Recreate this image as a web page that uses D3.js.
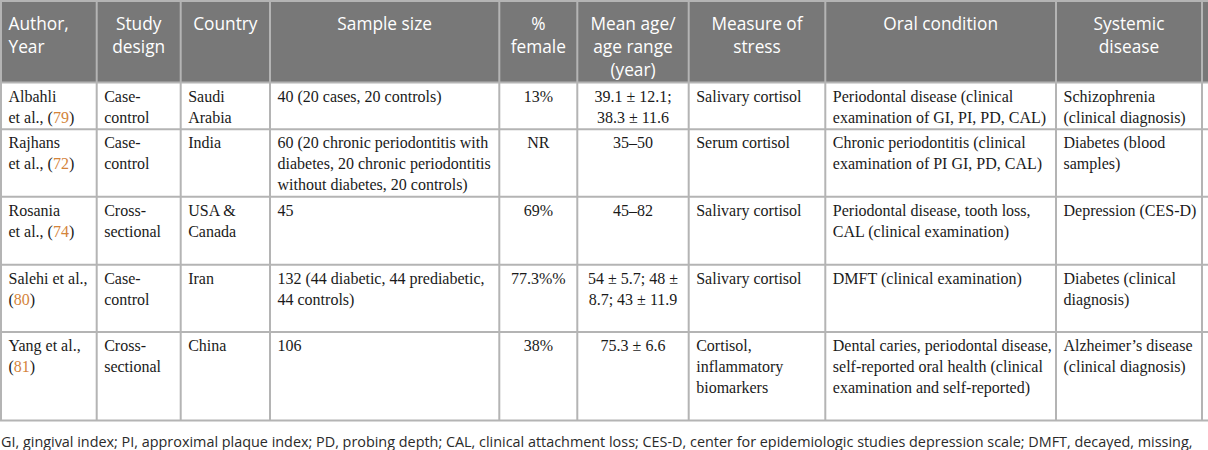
<!DOCTYPE html>
<html>
<head>
<meta charset="utf-8">
<script src="https://cdn.jsdelivr.net/npm/d3@7"></script>
<style>
  body { margin: 0; background: #fff; overflow: hidden; }
  svg { display: block; }
</style>
</head>
<body>
<div id="tableBox"></div>
<script>
// table content, one array per column
var headers = ["Author,\nYear", "Study\ndesign", "Country", "Sample size", "%\nfemale",
  "Mean age/\nage range\n(year)", "Measure of\nstress", "Oral condition", "Systemic\ndisease"];

var authors = ["Albahli\net al., ", "Rajhans\net al., ", "Rosania\net al., ", "Salehi et al.,\n", "Yang et al.,\n"];
var refs = ["79", "72", "74", "80", "81"];
var designs = ["Case-\ncontrol", "Case-\ncontrol", "Cross-\nsectional", "Case-\ncontrol", "Cross-\nsectional"];
var countries = ["Saudi\nArabia", "India", "USA &\nCanada", "Iran", "China"];
var sampleSizes = [
  "40 (20 cases, 20 controls)",
  "60 (20 chronic periodontitis with\ndiabetes, 20 chronic periodontitis\nwithout diabetes, 20 controls)",
  "45",
  "132 (44 diabetic, 44 prediabetic,\n44 controls)",
  "106"
];
var pctFemale = ["13%", "NR", "69%", "77.3%%", "38%"];
var meanAges = ["39.1 ± 12.1;\n38.3 ± 11.6", "35–50", "45–82", "54 ± 5.7; 48 ±\n8.7; 43 ± 11.9", "75.3 ± 6.6"];
var stressMeasures = ["Salivary cortisol", "Serum cortisol", "Salivary cortisol", "Salivary cortisol",
  "Cortisol,\ninflammatory\nbiomarkers"];
var oralConditions = [
  "Periodontal disease (clinical\nexamination of GI, PI, PD, CAL)",
  "Chronic periodontitis (clinical\nexamination of PI GI, PD, CAL)",
  "Periodontal disease, tooth loss,\nCAL (clinical examination)",
  "DMFT (clinical examination)",
  "Dental caries, periodontal disease,\nself-reported oral health (clinical\nexamination and self-reported)"
];
var systemicDiseases = ["Schizophrenia\n(clinical diagnosis)", "Diabetes (blood\nsamples)", "Depression (CES-D)",
  "Diabetes (clinical\ndiagnosis)", "Alzheimer\u2019s disease\n(clinical diagnosis)"];
var footnote = "GI, gingival index; PI, approximal plaque index; PD, probing depth; CAL, clinical attachment loss; CES-D, center for epidemiologic studies depression scale; DMFT, decayed, missing,";

// layout
let w = 1208, h = 450;
var colEdges = [1, 96.7, 180.7, 270, 499.3, 577.3, 688.7, 825.3, 1056, 1202, 1300];
var rowEdges = [1, 82.5, 129.3, 196.7, 264.7, 332, 420.5];
var centered = [4, 5];
var pad = 7.5;
var lineH = 21, headLineH = 23;

var columns = [authors, designs, countries, sampleSizes, pctFemale, meanAges,
  stressMeasures, oralConditions, systemicDiseases];

let svg = d3.select("#tableBox")
  .append("svg")
  .attr("width", w)
  .attr("height", h);

// header band
svg.append("rect")
  .attr("x", 0).attr("y", 0)
  .attr("width", w).attr("height", rowEdges[1])
  .attr("fill", "#787878");

// header text
headers.forEach(function(t, c) {
  var left = c === 0;
  var x = left ? colEdges[c] + pad : (colEdges[c] + colEdges[c + 1]) / 2;
  var txt = svg.append("text")
    .attr("x", x)
    .attr("y", 30)
    .attr("text-anchor", left ? "start" : "middle")
    .attr("font-family", "'Open Sans', sans-serif")
    .attr("font-size", 17.3)
    .attr("fill", "#fff");
  txt.selectAll("tspan")
    .data(t.split("\n"))
    .enter().append("tspan")
    .attr("x", x)
    .attr("dy", function(d, i) { return i === 0 ? 0 : headLineH; })
    .text(function(d) { return d; });
});

// body cells
columns.forEach(function(col, c) {
  col.forEach(function(t, r) {
    var mid = centered.indexOf(c) >= 0;
    var x = mid ? (colEdges[c] + colEdges[c + 1]) / 2 : colEdges[c] + pad;
    var txt = svg.append("text")
      .attr("y", rowEdges[r + 1] + 19)
      .attr("text-anchor", mid ? "middle" : "start")
      .attr("font-family", "'Liberation Serif', 'Times New Roman', serif")
      .attr("font-size", 16)
      .attr("fill", "#1a1a1a");
    var lines = t.split("\n");
    lines.forEach(function(line, i) {
      var ts = txt.append("tspan")
        .attr("x", x)
        .attr("dy", i === 0 ? 0 : lineH);
      if (c === 0 && i === lines.length - 1) {
        // author column: reference number in orange at the end
        ts.append("tspan").text(line + "(");
        ts.append("tspan").attr("fill", "#d4843a").text(refs[r]);
        ts.append("tspan").text(")");
      } else {
        ts.text(line);
      }
    });
  });
});

// grid lines
var gridColor = "#b4b4b4";
svg.selectAll(".vline")
  .data(colEdges.slice(0, -1))
  .enter().append("line")
  .attr("class", "vline")
  .attr("x1", function(d) { return d; })
  .attr("x2", function(d) { return d; })
  .attr("y1", rowEdges[0])
  .attr("y2", rowEdges[rowEdges.length - 1])
  .attr("stroke", gridColor)
  .attr("stroke-width", 2);

svg.selectAll(".hline")
  .data(rowEdges)
  .enter().append("line")
  .attr("class", "hline")
  .attr("x1", 0)
  .attr("x2", w)
  .attr("y1", function(d) { return d; })
  .attr("y2", function(d) { return d; })
  .attr("stroke", gridColor)
  .attr("stroke-width", 2);

// footnote
svg.append("text")
  .attr("x", 1)
  .attr("y", 447)
  .attr("font-family", "'Open Sans', sans-serif")
  .attr("font-size", 14.4)
  .attr("fill", "#2a2a2a")
  .text(footnote);
</script>
</body>
</html>
